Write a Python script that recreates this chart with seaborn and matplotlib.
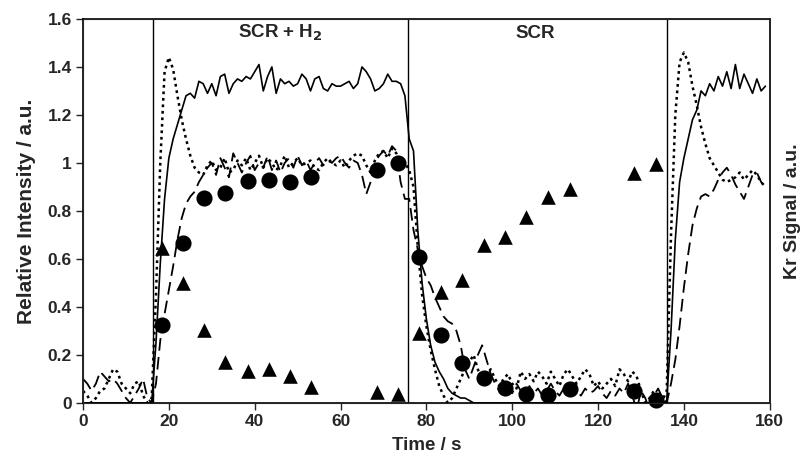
import numpy as np
import pandas as pd
import matplotlib
matplotlib.use("Agg")
import matplotlib.pyplot as plt
import seaborn as sns

# --- data ---
time_s = np.arange(0, 160, 1)

# solid trace (Kr signal)
kr_signal = [
    0, 0, 0, 0, 0, 0, 0, 0, 0, 0,                                   # 0-9
    0, 0, 0, 0, 0, 0, 0.0, 0.25, 0.58, 0.85,                         # 10-19
    1.02, 1.10, 1.16, 1.22, 1.28, 1.29, 1.27, 1.34, 1.33, 1.29,      # 20-29
    1.33, 1.28, 1.36, 1.37, 1.29, 1.33, 1.35, 1.34, 1.36, 1.35,      # 30-39
    1.38, 1.41, 1.30, 1.36, 1.40, 1.29, 1.35, 1.33, 1.34, 1.32,      # 40-49
    1.33, 1.37, 1.35, 1.30, 1.35, 1.36, 1.31, 1.30, 1.33, 1.32,      # 50-59
    1.32, 1.33, 1.34, 1.31, 1.33, 1.40, 1.38, 1.35, 1.30, 1.31,      # 60-69
    1.33, 1.37, 1.34, 1.34, 1.33, 1.28, 1.10, 1.05, 0.72, 0.50,      # 70-79
    0.35, 0.24, 0.17, 0.13, 0.10, 0.06, 0.04, 0.03, 0.02, 0.02,      # 80-89
    0.01, 0, 0, 0, 0, 0, 0, 0, 0, 0,                                 # 90-99
    0, 0, 0, 0, 0, 0, 0, 0, 0, 0,                                    # 100-109
    0, 0, 0, 0, 0, 0, 0, 0, 0, 0,                                    # 110-119
    0, 0, 0, 0, 0, 0, 0, 0, 0, 0,                                    # 120-129
    0, 0, 0, 0, 0, 0, 0.01, 0.30, 0.68, 0.92,                        # 130-139
    1.02, 1.10, 1.18, 1.22, 1.30, 1.28, 1.33, 1.30, 1.36, 1.32,      # 140-149
    1.38, 1.31, 1.41, 1.31, 1.37, 1.33, 1.29, 1.35, 1.30, 1.32,      # 150-159
]

# dotted trace
dotted_signal = [
    0.05, 0.03, 0.00, 0.02, 0.05, 0.06, 0.10, 0.14, 0.13, 0.08,      # 0-9
    0.06, 0.04, 0.08, 0.09, 0.03, 0.00, 0.02, 0.45, 1.00, 1.38,      # 10-19
    1.44, 1.39, 1.28, 1.18, 1.10, 1.03, 0.98, 0.96, 0.95, 0.99,      # 20-29
    1.01, 0.97, 0.98, 1.02, 0.96, 0.97, 1.01, 0.99, 1.02, 0.97,      # 30-39
    1.00, 1.03, 0.98, 1.02, 1.00, 0.97, 0.99, 1.03, 0.98, 1.00,      # 40-49
    1.02, 0.99, 1.00, 1.01, 0.98, 0.97, 1.00, 1.02, 1.00, 0.99,      # 50-59
    1.01, 0.98, 1.01, 1.03, 1.04, 1.03, 0.99, 0.96, 1.01, 1.04,      # 60-69
    1.05, 1.02, 1.06, 1.04, 1.00, 1.00, 0.97, 0.90, 0.65, 0.45,      # 70-79
    0.32, 0.22, 0.14, 0.07, 0.03, 0.00, 0.02, 0.06, 0.10, 0.14,      # 80-89
    0.17, 0.20, 0.14, 0.09, 0.12, 0.14, 0.10, 0.07, 0.10, 0.12,      # 90-99
    0.08, 0.06, 0.13, 0.10, 0.12, 0.09, 0.13, 0.11, 0.08, 0.13,      # 100-109
    0.10, 0.07, 0.12, 0.14, 0.11, 0.08, 0.11, 0.14, 0.12, 0.07,      # 110-119
    0.09, 0.06, 0.08, 0.10, 0.07, 0.14, 0.12, 0.09, 0.13, 0.11,      # 120-129
    0.05, 0.00, 0.02, 0.05, 0.02, 0.01, 0.05, 0.70, 1.20, 1.42,      # 130-139
    1.46, 1.42, 1.32, 1.24, 1.15, 1.08, 1.02, 0.99, 0.96, 0.93,      # 140-149
    0.92, 0.93, 0.94, 0.96, 0.93, 0.95, 0.97, 0.95, 0.92, 0.90,      # 150-159
]

# dashed trace
dashed_signal = [
    0.10, 0.08, 0.05, 0.08, 0.13, 0.11, 0.09, 0.10, 0.08, 0.05,      # 0-9
    0.02, 0.00, 0.03, 0.06, 0.10, 0.02, 0.00, 0.08, 0.26, 0.37,      # 10-19
    0.47, 0.57, 0.68, 0.77, 0.83, 0.86, 0.88, 0.92, 0.95, 0.98,      # 20-29
    1.00, 0.95, 1.02, 0.98, 0.94, 1.04, 1.00, 0.96, 1.00, 1.03,      # 30-39
    0.97, 1.00, 0.98, 1.03, 0.97, 1.01, 0.96, 1.00, 1.02, 0.98,      # 40-49
    1.03, 0.99, 1.01, 0.97, 1.00, 1.02, 0.99, 1.01, 1.00, 1.02,      # 50-59
    1.03, 1.00, 0.98, 1.01, 1.00, 0.95, 0.87, 0.92, 1.00, 1.03,      # 60-69
    1.05, 1.03, 1.07, 1.05, 0.92, 0.85, 0.85, 0.72, 0.64, 0.57,      # 70-79
    0.52, 0.49, 0.44, 0.40, 0.36, 0.34, 0.33, 0.30, 0.24, 0.14,      # 80-89
    0.10, 0.15, 0.20, 0.24, 0.18, 0.12, 0.08, 0.05, 0.09, 0.06,      # 90-99
    0.04, 0.08, 0.05, 0.03, 0.07, 0.04, 0.06, 0.03, 0.05, 0.08,      # 100-109
    0.05, 0.03, 0.06, 0.04, 0.07, 0.05, 0.03, 0.06, 0.04, 0.05,      # 110-119
    0.07, 0.04, 0.02, 0.05, 0.03, 0.06, 0.04, 0.08, 0.03, -0.03,     # 120-129
    0.05, 0.02, -0.03, 0.03, 0.06, 0.02, 0.00, 0.08, 0.18, 0.32,     # 130-139
    0.48, 0.62, 0.74, 0.81, 0.86, 0.87, 0.86, 0.89, 0.93, 0.96,      # 140-149
    0.98, 0.95, 0.91, 0.88, 0.85, 0.90, 0.95, 0.96, 0.92, 0.90,      # 150-159
]

# sampled points (circles / triangles)
sample_t = [18.3, 23.2, 28.2, 33.1, 38.4, 43.3, 48.2, 53.2, 68.4, 73.4,
            78.3, 83.3, 88.3, 93.4, 98.3, 103.3, 108.4, 113.4, 128.4, 133.4]
circle_vals = [0.325, 0.665, 0.855, 0.876, 0.925, 0.929, 0.92, 0.94, 0.971, 1.0,
               0.606, 0.283, 0.168, 0.103, 0.061, 0.036, 0.031, 0.057, 0.051, 0.0125]
triangle_vals = [0.644, 0.50, 0.304, 0.172, 0.133, 0.14, 0.11, 0.068, 0.047, 0.037,
                 0.293, 0.464, 0.51, 0.658, 0.693, 0.774, 0.857, 0.89, 0.96, 0.995]

switch_times = [16.3, 75.8, 136.0]
phase_labels = ["SCR + H$_\\mathbf{2}$", "SCR"]
phase_label_t = [45.9, 105.3]

x_ticks = [0, 20, 40, 60, 80, 100, 120, 140, 160]
y_ticks = [0, 0.2, 0.4, 0.6, 0.8, 1.0, 1.2, 1.4, 1.6]
y_tick_labels = ["0", "0.2", "0.4", "0.6", "0.8", "1", "1.2", "1.4", "1.6"]

# --- style ---
sns.set_style("ticks")
plt.rcParams["font.family"] = ["Liberation Sans", "DejaVu Sans"]
plt.rcParams["font.weight"] = "bold"
plt.rcParams["mathtext.default"] = "bf"

fig, ax = plt.subplots(figsize=(8.06, 4.62), dpi=100)
fig.subplots_adjust(left=0.103, right=0.955, bottom=0.128, top=0.959)

lines_df = pd.DataFrame({"t": time_s, "kr": kr_signal,
                         "dot": dotted_signal, "dash": dashed_signal})

sns.lineplot(data=lines_df, x="t", y="kr", ax=ax, color="black", lw=1.2)
sns.lineplot(data=lines_df, x="t", y="dot", ax=ax, color="black", lw=1.8,
             linestyle=(0, (1.1, 1.5)))
sns.lineplot(data=lines_df, x="t", y="dash", ax=ax, color="black", lw=1.3,
             linestyle=(0, (7.0, 3.5)))

sns.scatterplot(x=sample_t, y=circle_vals, ax=ax, marker="o", s=135,
                color="black", edgecolor="black", linewidth=0, clip_on=False, zorder=5)
sns.scatterplot(x=sample_t, y=triangle_vals, ax=ax, marker="^", s=110,
                color="black", edgecolor="black", linewidth=0, clip_on=False, zorder=5)

for ts in switch_times:
    ax.axvline(ts, color="black", lw=1.0)

for lab, tl in zip(phase_labels, phase_label_t):
    ax.text(tl, 1.54, lab, ha="center", va="center", fontsize=13.5, fontweight="bold")

ax.set_xlim(0, 160)
ax.set_ylim(0, 1.6)
ax.set_xticks(x_ticks)
ax.set_xticklabels([str(v) for v in x_ticks])
ax.set_yticks(y_ticks)
ax.set_yticklabels(y_tick_labels)
ax.tick_params(direction="out", length=5, width=1, labelsize=12.5, pad=3)
for lab in ax.get_xticklabels() + ax.get_yticklabels():
    lab.set_fontweight("bold")

ax.set_xlabel("Time / s", fontsize=13.5, fontweight="bold", labelpad=6)
ax.set_ylabel("Relative Intensity / a.u.", fontsize=15, fontweight="bold", labelpad=8)

for sp in ax.spines.values():
    sp.set_visible(True)
    sp.set_linewidth(1.2)
    sp.set_color("black")

ax2 = ax.twinx()
ax2.set_ylim(0, 1.6)
ax2.set_yticks([])
ax2.set_ylabel("Kr Signal / a.u.", fontsize=14, fontweight="bold", labelpad=10)
ax2.spines["right"].set_visible(True)
ax2.spines["right"].set_linewidth(1.2)

fig.savefig("out.png", dpi=100)
